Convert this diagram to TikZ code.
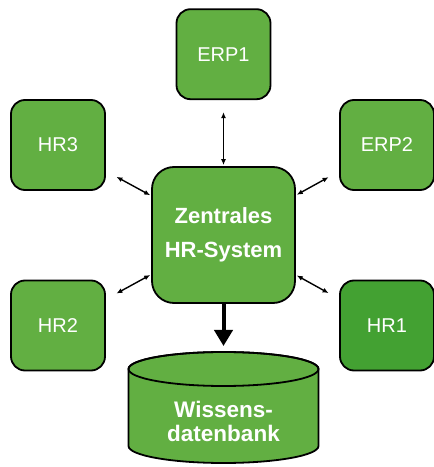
\documentclass[tikz,border=0pt]{standalone}
\usepackage{fontspec}
\setmainfont{Liberation Sans}
\usepackage{xcolor}
\usetikzlibrary{arrows.meta, positioning}

\definecolor{hrgreen}{HTML}{62AF42}
\definecolor{hrdark}{HTML}{43A132}

\begin{document}
\begin{tikzpicture}[x=1pt, y=1pt,
        sys/.style={rectangle, draw=black, line width=1.8pt, fill=hrgreen, minimum width=94pt, minimum height=90pt, rounded corners=14pt, text=white, font=\fontsize{20}{24}\selectfont},
        hub/.style={rectangle, draw=black, line width=1.8pt, fill=hrgreen, minimum width=143pt, minimum height=136pt, rounded corners=22pt, text=white, align=center, font=\fontsize{22}{34}\selectfont\bfseries},
        dbtext/.style={text=white, align=center, font=\fontsize{22.5}{24}\selectfont\bfseries},
        link/.style={{Latex[length=6pt,width=5pt]}-{Latex[length=6pt,width=5pt]}, line width=1.4pt, shorten <=12pt, shorten >=1pt},
        feed/.style={-{Triangle[length=16pt,width=18pt]}, line width=4pt, shorten >=6pt},
    ]
        \useasboundingbox (0,0) rectangle (434,467);

        % Central system
        \node[hub] (zentral) at (223.5,232) {Zentrales\\HR-System};

        % Connected systems
        \node[sys, above=66pt of zentral] (erp1) {ERP1};
        \node[sys] (hr3) at (58,322) {HR3};
        \node[sys] (erp2) at (387,322) {ERP2};
        \node[sys] (hr2) at (58,141.5) {HR2};
        \node[sys, fill=hrdark] (hr1) at (387,141.5) {HR1};

        % Knowledge database
        \filldraw[fill=hrgreen, draw=black, line width=1.8pt] (128.5,98) -- (128.5,21)
            arc[start angle=180, end angle=360, x radius=95, y radius=17] -- (318.5,98)
            arc[start angle=0, end angle=180, x radius=95, y radius=17] -- cycle;
        \draw[line width=1.8pt] (223.5,98) ellipse[x radius=95, y radius=17];
        \coordinate (dbtop) at (223.5,115);
        \node[dbtext] (db) at (223.5,46) {Wissens-\\datenbank};

        % Arrows
        \draw[link] (erp1) -- (zentral);
        \draw[link] (hr3) -- (zentral);
        \draw[link] (erp2) -- (zentral);
        \draw[link] (hr2) -- (zentral);
        \draw[link] (hr1) -- (zentral);
        \draw[feed] (zentral) -- (dbtop);
    \end{tikzpicture}
\end{document}
